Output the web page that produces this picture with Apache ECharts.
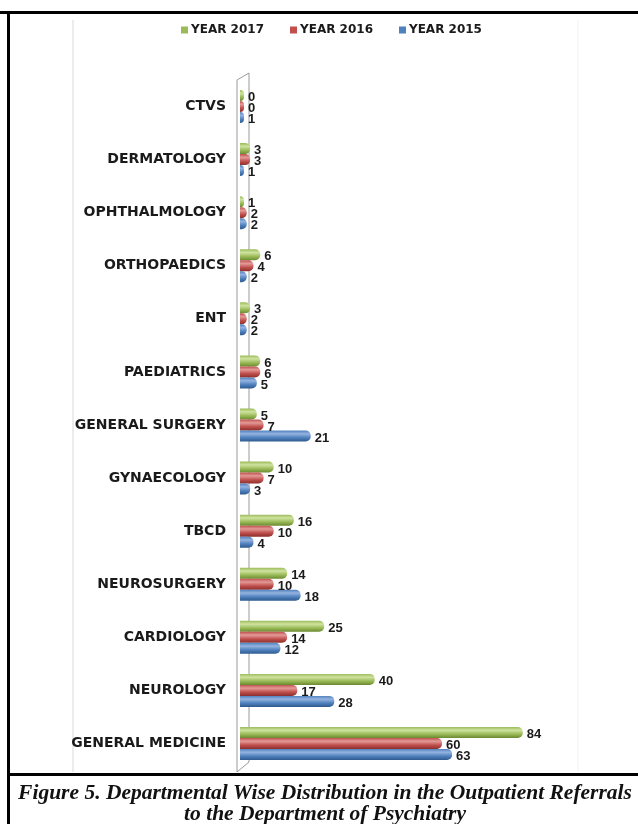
<!DOCTYPE html>
<html>
<head>
<meta charset="utf-8">
<script src="https://cdn.jsdelivr.net/npm/echarts@6/dist/echarts.min.js"></script>
<style>
html,body{margin:0;padding:0;background:#fff;}
#main{width:638px;height:824px;}
</style>
</head>
<body>
<div id="main"></div>
<script>
var categories = ['GENERAL MEDICINE','NEUROLOGY','CARDIOLOGY','NEUROSURGERY','TBCD','GYNAECOLOGY','GENERAL SURGERY','PAEDIATRICS','ENT','ORTHOPAEDICS','OPHTHALMOLOGY','DERMATOLOGY','CTVS'];
var year2015 = [63,28,12,18,4,3,21,5,2,2,2,1,1];
var year2016 = [60,17,14,10,10,7,7,6,2,4,2,3,0];
var year2017 = [84,40,25,14,16,10,5,6,3,6,1,3,0];
var legendNames = ['YEAR 2017','YEAR 2016','YEAR 2015'];
var captionLines = ['Figure 5. Departmental Wise Distribution in the Outpatient Referrals','to the Department of Psychiatry'];

var chart = echarts.init(document.getElementById('main'));

function grad(light, base, dark){
  return new echarts.graphic.LinearGradient(0,0,0,1,[
    {offset:0,color:base},
    {offset:0.3,color:light},
    {offset:0.65,color:base},
    {offset:1,color:dark}
  ]);
}
function mkSeries(name, data, light, base, dark){
  return {
    name:name, type:'bar', data:data, barWidth:11, barGap:'0%', barMinHeight:4,
    itemStyle:{color:grad(light,base,dark), borderRadius:[0,5,5,0]},
    label:{show:true, position:'right', distance:4, offset:[0,2], color:'#1a1a1a',
      fontFamily:'Liberation Sans, Arial, sans-serif', fontWeight:'bold', fontSize:13},
    emphasis:{disabled:true}
  };
}

var option = {
  animation:false,
  backgroundColor:'#fff',
  legend:{
    data:[
      {name:legendNames[0], itemStyle:{color:'#9bbb59'}},
      {name:legendNames[1], itemStyle:{color:'#c0504d'}},
      {name:legendNames[2], itemStyle:{color:'#4f81bd'}}
    ],
    left:181, top:24, padding:0, icon:'rect', itemWidth:7, itemHeight:7, itemGap:26,
    textStyle:{fontFamily:'DejaVu Sans, sans-serif', fontWeight:'bold', fontSize:12, color:'#1a1a1a', padding:[0,0,0,-2]}
  },
  grid:{left:240, top:80, width:303, height:690, containLabel:false},
  xAxis:{type:'value', min:0, max:90, show:false},
  yAxis:{type:'category', data:categories,
    axisLine:{show:false}, axisTick:{show:false},
    axisLabel:{margin:14, color:'#1a1a1a', fontFamily:'DejaVu Sans, sans-serif', fontWeight:'bold', fontSize:14}
  },
  series:[
    mkSeries('YEAR 2017', year2017, '#cfe3a0', '#9bbb59', '#6b8a30'),
    mkSeries('YEAR 2016', year2016, '#e39a98', '#c0504d', '#8c2f2d'),
    mkSeries('YEAR 2015', year2015, '#95b3e0', '#4f81bd', '#2f5a8f')
  ]
};
chart.setOption(option);

var n = categories.length;
var yTopC = chart.convertToPixel({yAxisIndex:0}, categories[n-1]);
var yBotC = chart.convertToPixel({yAxisIndex:0}, categories[0]);
var band = (yBotC - yTopC)/(n-1);
var wallTop = yTopC - band/2, wallBot = yBotC + band/2;
var x0 = chart.convertToPixel({xAxisIndex:0}, 0);

chart.setOption({
  graphic:[
    {type:'line', shape:{x1:73,y1:20,x2:73,y2:772}, style:{stroke:'#ececec',lineWidth:2}, z:-1},
    {type:'line', shape:{x1:578,y1:20,x2:578,y2:772}, style:{stroke:'#f2f2f2',lineWidth:1}, z:-1},
    {type:'polyline', shape:{points:[[x0-3,wallBot+2],[x0-3,wallTop],[x0+9,wallTop-7],[x0+9,wallBot-8],[x0-3,wallBot+2]]},
      style:{stroke:'#9a9a9a',fill:'#fff',lineWidth:1}, z:-1},
    {type:'rect', shape:{x:0,y:11,width:638,height:3}, style:{fill:'#000'}, z:10},
    {type:'rect', shape:{x:7,y:11,width:3,height:813}, style:{fill:'#000'}, z:10},
    {type:'rect', shape:{x:7,y:773,width:631,height:3}, style:{fill:'#000'}, z:10},
    {type:'rect', shape:{x:10,y:776,width:628,height:48}, style:{fill:'#fff'}, z:9},
    {type:'text', x:325, y:793, z:11, style:{text:captionLines[0], align:'center', verticalAlign:'middle',
      font:'italic bold 21.5px "Liberation Serif", serif', fill:'#111'}},
    {type:'text', x:325, y:814, z:11, style:{text:captionLines[1], align:'center', verticalAlign:'middle',
      font:'italic bold 21.5px "Liberation Serif", serif', fill:'#111'}}
  ]
});
</script>
</body>
</html>
